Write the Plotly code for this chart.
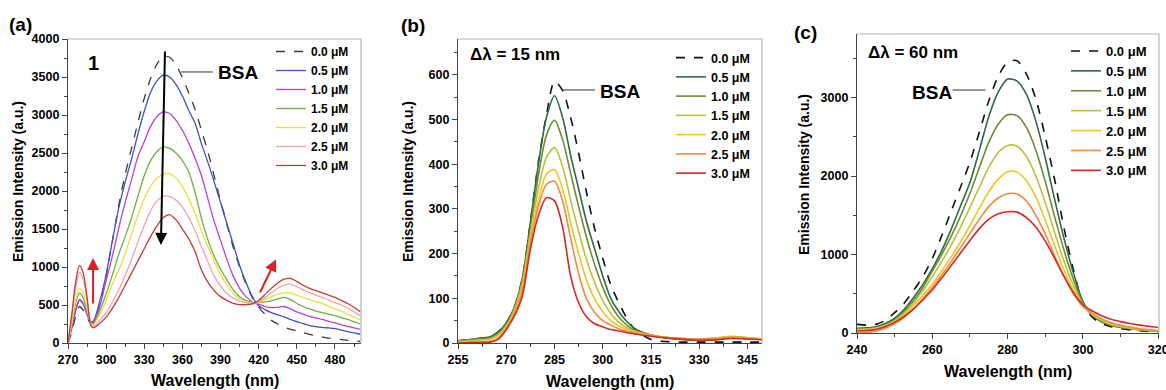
import plotly.graph_objects as go

# ---------------- Panel (a) data ----------------
wl_a = [270, 273, 276, 279, 282, 285, 288, 290, 295, 300, 305, 310, 315, 320, 325, 330, 335, 340,
        345, 350, 355, 360, 365, 370, 375, 380, 385, 390, 395, 400, 405, 410, 415, 420, 425, 430,
        435, 440, 445, 450, 455, 460, 465, 470, 475, 480, 485, 490, 495, 500]
a_00 = [0, 150, 350, 480, 430, 330, 260, 260, 520, 880, 1350, 1820, 2220, 2560, 2900, 3220, 3480, 3670,
        3770, 3760, 3660, 3490, 3290, 3070, 2800, 2520, 2200, 1870, 1560, 1260, 1000, 780, 600, 470, 380, 300,
        250, 210, 180, 160, 135, 115, 95, 80, 65, 55, 45, 35, 28, 20]
a_05 = [0, 200, 430, 570, 520, 380, 280, 290, 550, 900, 1350, 1780, 2120, 2420, 2750, 3050, 3300, 3450,
        3525, 3500, 3400, 3250, 3060, 2890, 2620, 2380, 2120, 1850, 1570, 1300, 1020, 800, 610, 490, 440, 400,
        370, 345, 310, 280, 255, 230, 215, 205, 198, 190, 170, 150, 132, 115]
a_10 = [0, 200, 420, 560, 510, 370, 275, 270, 480, 820, 1150, 1520, 1850, 2150, 2450, 2650, 2850, 2980,
        3040, 3020, 2930, 2800, 2630, 2430, 2200, 1900, 1600, 1350, 1100, 880, 720, 610, 540, 510, 480, 465,
        470, 480, 450, 410, 380, 350, 330, 310, 285, 265, 240, 220, 200, 180]
a_15 = [0, 250, 520, 660, 590, 420, 270, 250, 420, 650, 900, 1170, 1400, 1650, 1930, 2200, 2400, 2520,
        2580, 2560, 2500, 2400, 2250, 1980, 1640, 1360, 1140, 970, 830, 700, 610, 560, 530, 530, 540, 555,
        580, 600, 570, 520, 480, 450, 420, 400, 380, 360, 335, 310, 280, 250]
a_20 = [0, 260, 560, 720, 650, 450, 260, 240, 380, 560, 780, 960, 1180, 1430, 1680, 1900, 2060, 2170,
        2220, 2230, 2170, 2060, 1900, 1700, 1470, 1270, 1080, 900, 760, 650, 580, 540, 525, 535, 570, 610,
        640, 660, 660, 630, 600, 570, 545, 520, 485, 450, 420, 380, 340, 300]
a_25 = [0, 330, 720, 930, 840, 560, 250, 220, 300, 400, 540, 700, 890, 1100, 1330, 1550, 1740, 1870,
        1930, 1930, 1880, 1790, 1650, 1480, 1270, 1070, 880, 750, 650, 590, 550, 530, 520, 545, 600, 660,
        720, 760, 775, 740, 700, 660, 630, 600, 565, 530, 500, 460, 410, 360]
a_30 = [0, 380, 800, 1020, 920, 600, 230, 200, 260, 340, 460, 600, 760, 920, 1080, 1240, 1400, 1540,
        1650, 1690, 1620, 1500, 1370, 1200, 960, 800, 690, 610, 560, 520, 505, 505, 515, 560, 640, 720,
        790, 840, 850, 810, 760, 720, 690, 660, 630, 600, 560, 520, 470, 410]

# ---------------- Panel (b) data ----------------
wl_b = [255, 260, 265, 267.5, 270, 272.5, 275, 277.5, 280, 282.5, 285, 287.5, 290, 292.5, 295, 297.5,
        300, 302.5, 305, 307.5, 310, 315, 320, 325, 330, 335, 340, 345, 350]
b_00 = [5, 9, 14, 25, 45, 80, 145, 270, 405, 510, 585, 565, 505, 425, 335, 255,
        190, 130, 90, 55, 30, 8, 3, 2, 2, 2, 2, 2, 2]
b_05 = [5, 9, 14, 25, 45, 80, 145, 270, 400, 505, 553, 505, 420, 345, 270, 210,
        150, 100, 70, 48, 32, 18, 12, 8, 6, 8, 12, 10, 8]
b_10 = [4, 8, 12, 22, 42, 78, 140, 255, 375, 465, 498, 455, 380, 305, 235, 175,
        125, 85, 58, 40, 28, 18, 12, 9, 8, 10, 14, 11, 8]
b_15 = [3, 6, 9, 18, 38, 74, 135, 245, 345, 415, 437, 395, 320, 250, 185, 135,
        95, 66, 46, 34, 26, 17, 12, 10, 9, 11, 15, 12, 9]
b_20 = [2, 3, 5, 13, 34, 68, 125, 230, 320, 378, 388, 345, 270, 200, 140, 98,
        70, 50, 38, 30, 24, 17, 12, 10, 9, 11, 14, 11, 9]
b_25 = [1, 2, 3, 10, 32, 64, 118, 222, 305, 355, 362, 318, 235, 155, 98, 68,
        50, 40, 32, 26, 22, 16, 12, 10, 9, 10, 13, 10, 8]
b_30 = [0, 1, 2, 8, 30, 60, 105, 210, 285, 325, 318, 260, 150, 90, 58, 43,
        36, 30, 27, 23, 20, 15, 11, 8, 6, 7, 10, 9, 7]

# ---------------- Panel (c) data ----------------
wl_c = [240, 242.5, 245, 247.5, 250, 252.5, 255, 257.5, 260, 262.5, 265, 267.5, 270, 272.5, 275, 277.5,
        280, 282.5, 285, 287.5, 290, 292.5, 295, 297.5, 300, 302.5, 305, 307.5, 310, 312.5, 315, 317.5, 320]
c_00 = [110, 100, 110, 160, 260, 380, 540, 720, 950, 1240, 1550, 1860, 2180, 2560, 2960, 3270,
        3450, 3470, 3300, 2980, 2500, 1950, 1330, 800, 380, 200, 120, 80, 55, 40, 30, 20, 15]
c_05 = [60, 65, 80, 120, 190, 300, 450, 620, 820, 1050, 1320, 1620, 1920, 2330, 2760, 3070,
        3235, 3210, 3040, 2700, 2230, 1700, 1200, 760, 400, 220, 140, 95, 70, 55, 40, 30, 20]
c_10 = [50, 55, 70, 105, 170, 275, 410, 580, 790, 1000, 1230, 1490, 1780, 2110, 2430, 2660,
        2780, 2770, 2620, 2330, 1930, 1480, 1050, 680, 380, 230, 150, 100, 75, 58, 42, 32, 22]
c_15 = [45, 50, 62, 95, 155, 250, 380, 540, 720, 910, 1120, 1350, 1600, 1860, 2110, 2300,
        2390, 2380, 2250, 2000, 1660, 1280, 910, 600, 360, 235, 160, 110, 80, 62, 45, 34, 24]
c_20 = [40, 42, 52, 85, 140, 230, 350, 480, 620, 790, 970, 1160, 1370, 1590, 1800, 1960,
        2055, 2050, 1940, 1730, 1440, 1110, 800, 540, 340, 240, 170, 120, 88, 68, 50, 38, 27]
c_25 = [0, 5, 25, 60, 120, 200, 310, 440, 580, 740, 910, 1090, 1270, 1450, 1610, 1720,
        1775, 1770, 1680, 1500, 1260, 980, 720, 500, 340, 250, 180, 130, 98, 75, 55, 42, 30]
c_30 = [25, 30, 45, 80, 135, 210, 305, 420, 550, 700, 860, 1020, 1180, 1330, 1450, 1520,
        1545, 1540, 1470, 1350, 1170, 950, 720, 510, 360, 280, 220, 175, 145, 120, 100, 85, 70]

conc_labels = ["0.0 μM", "0.5 μM", "1.0 μM", "1.5 μM", "2.0 μM", "2.5 μM", "3.0 μM"]
colors_a = ["#3a3a3a", "#3f51c2", "#b542d6", "#6fae3f", "#e6e13e", "#f2a3a6", "#c23a3a"]
colors_bc = ["#111111", "#2f6a42", "#6e8c37", "#b9c23c", "#f0c424", "#f08a45", "#d42a26"]

W, H = 1166, 390
FONT = "Liberation Sans, Arial, sans-serif"


def px_x(p):
    return p / W


def px_y(p):
    return 1 - p / H


fig = go.Figure()

panels = [
    ("x", "y", "legend", wl_a, [a_00, a_05, a_10, a_15, a_20, a_25, a_30], colors_a, 1.3),
    ("x2", "y2", "legend2", wl_b, [b_00, b_05, b_10, b_15, b_20, b_25, b_30], colors_bc, 1.6),
    ("x3", "y3", "legend3", wl_c, [c_00, c_05, c_10, c_15, c_20, c_25, c_30], colors_bc, 1.6),
]
for xa, ya, lg, wl, series, cols, lw in panels:
    for i, (lab, ys) in enumerate(zip(conc_labels, series)):
        fig.add_trace(go.Scatter(
            x=wl, y=ys, mode="lines", name=lab, xaxis=xa, yaxis=ya, legend=lg,
            line=dict(color=cols[i], width=lw, dash="dash" if i == 0 else "solid",
                      shape="spline", smoothing=0.8),
            showlegend=True))

dom = {
    "a": dict(x=[px_x(68), px_x(361)], y=[px_y(343), px_y(39)]),
    "b": dict(x=[px_x(458), px_x(762)], y=[px_y(343), px_y(39)]),
    "c": dict(x=[px_x(857), px_x(1159)], y=[px_y(333), px_y(34)]),
}


def axis(domain, rng, dtick, tick0, minor_dtick, anchor):
    return dict(showgrid=False, zeroline=False, showline=True, linecolor="#444", linewidth=1.2,
                ticks="outside", ticklen=5, tickwidth=1.2, tickcolor="#444",
                tickfont=dict(family=FONT, size=12.5, color="black", weight=700),
                automargin=False, mirror=False, ticklabeloverflow="allow",
                domain=domain, range=rng, dtick=dtick, tick0=tick0, anchor=anchor,
                minor=dict(dtick=minor_dtick, tick0=tick0, ticks="outside", ticklen=3, tickcolor="#444"))


fig.update_layout(
    width=W, height=H, margin=dict(l=0, r=0, t=0, b=0),
    paper_bgcolor="white", plot_bgcolor="white", template="none",
    font=dict(family=FONT, color="black"),
    xaxis=axis(dom["a"]["x"], [270, 500.5], 30, 270, 15, "y"),
    yaxis=axis(dom["a"]["y"], [0, 4000], 500, 0, 250, "x"),
    xaxis2=axis(dom["b"]["x"], [255, 349.5], 15, 255, 7.5, "y2"),
    yaxis2=axis(dom["b"]["y"], [0, 680], 100, 0, 50, "x2"),
    xaxis3=axis(dom["c"]["x"], [240, 320.2], 20, 240, 10, "y3"),
    yaxis3=axis(dom["c"]["y"], [0, 3810], 1000, 0, 500, "x3"),
)

leg_common = dict(bgcolor="rgba(0,0,0,0)", borderwidth=0, xanchor="left", yanchor="top",
                  tracegroupgap=0, itemwidth=30)
fig.update_layout(
    legend=dict(leg_common, x=px_x(271), y=px_y(37), font=dict(family=FONT, size=12, weight=700)),
    legend2=dict(leg_common, x=px_x(671), y=px_y(43), font=dict(family=FONT, size=12.5, weight=700)),
    legend3=dict(leg_common, x=px_x(1066), y=px_y(36), font=dict(family=FONT, size=13, weight=700)),
)

shapes = []
for xr, yr in [("x", "y"), ("x2", "y2"), ("x3", "y3")]:
    shapes.append(dict(type="line", xref=f"{xr} domain", yref=f"{yr} domain", x0=0, x1=1, y0=1, y1=1,
                       line=dict(color="#b5b5b5", width=1.2)))
    shapes.append(dict(type="line", xref=f"{xr} domain", yref=f"{yr} domain", x0=1, x1=1, y0=0, y1=1,
                       line=dict(color="#b5b5b5", width=1.2)))
shapes.append(dict(type="line", xref="x", yref="y", x0=359, x1=384, y0=3566, y1=3566,
                   line=dict(color="#333", width=1)))
shapes.append(dict(type="line", xref="x2", yref="y2", x0=287.6, x1=297.6, y0=566, y1=566,
                   line=dict(color="#333", width=1)))
shapes.append(dict(type="line", xref="x3", yref="y3", x0=265.4, x1=274.1, y0=3096, y1=3096,
                   line=dict(color="#333", width=1)))
fig.update_layout(shapes=shapes)


def bold(s):
    return dict(family=FONT, size=s, color="black", weight=700)


def txt(text, x, y, size, xref="paper", yref="paper", angle=0, xanchor="center"):
    return dict(text=text, x=x, y=y, xref=xref, yref=yref, showarrow=False, textangle=angle,
                xanchor=xanchor, yanchor="middle", font=bold(size))


ann = []
ann.append(txt("(a)", px_x(20), px_y(24), 19))
ann.append(txt("(b)", px_x(413), px_y(26), 19))
ann.append(txt("(c)", px_x(805), px_y(32), 19))
for cx, cy in [(18, 182), (408, 182), (804, 175)]:
    ann.append(txt("Emission Intensity (a.u.)", px_x(cx), px_y(cy), 14, angle=-90))
for cx, cy in [(215, 380), (610, 381), (1008, 371)]:
    ann.append(txt("Wavelength (nm)", px_x(cx), px_y(cy), 16))
ann.append(txt("1", 289.7, 3690, 20, "x", "y"))
ann.append(txt("BSA", 403.5, 3560, 19, "x", "y"))
ann.append(txt("Δλ = 15 nm", 258, 646, 17, "x2", "y2", xanchor="left"))
ann.append(txt("BSA", 305.4, 562, 19, "x2", "y2"))
ann.append(txt("Δλ = 60 nm", 242.4, 3570, 17, "x3", "y3", xanchor="left"))
ann.append(txt("BSA", 260, 3060, 19, "x3", "y3"))
ann.append(dict(x=343.1, y=1290, ax=346.3, ay=3855, xref="x", yref="y", axref="x", ayref="y", text="",
                showarrow=True, arrowhead=2, arrowsize=1.2, arrowwidth=2, arrowcolor="black"))
ann.append(dict(x=289.7, y=1120, ax=289.7, ay=500, xref="x", yref="y", axref="x", ayref="y", text="",
                showarrow=True, arrowhead=2, arrowsize=1.2, arrowwidth=2, arrowcolor="#e02020"))
ann.append(dict(x=433.6, y=1100, ax=420.5, ay=645, xref="x", yref="y", axref="x", ayref="y", text="",
                showarrow=True, arrowhead=2, arrowsize=1.2, arrowwidth=2, arrowcolor="#e02020"))
fig.update_layout(annotations=ann)

fig.write_html("out.html")
